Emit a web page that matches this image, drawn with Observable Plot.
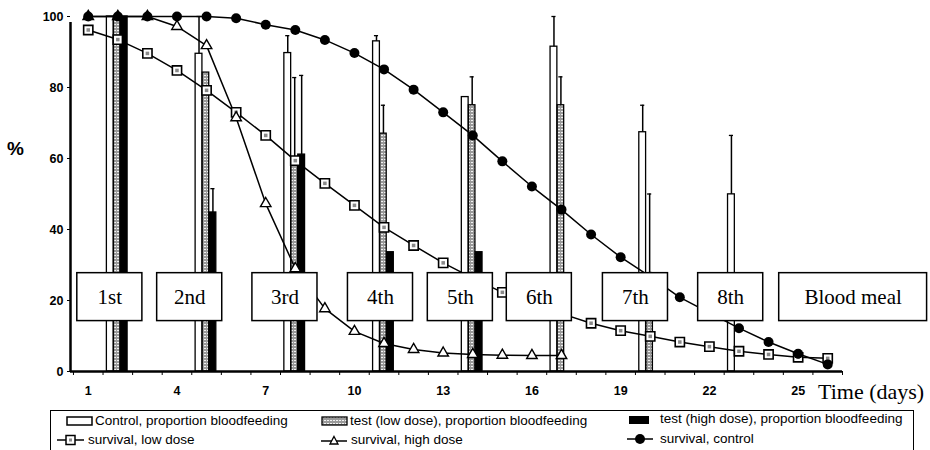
<!DOCTYPE html>
<html>
<head>
<meta charset="utf-8">
<script src="https://cdn.jsdelivr.net/npm/d3@7"></script>
<script src="https://cdn.jsdelivr.net/npm/@observablehq/plot@0.6"></script>
<style>
  html, body { margin: 0; padding: 0; background: #fff; }
  #wrap { position: relative; width: 930px; height: 450px; overflow: hidden; font-family: "Liberation Sans", Arial, sans-serif; color: #000; }
  #chart { position: absolute; left: 0; top: 0; }
  .pct { position: absolute; left: 7px; top: 138px; font: bold 19px "Liberation Sans", Arial, sans-serif; }
  .xlab { position: absolute; left: 818px; top: 379px; font: 22px "Liberation Serif", "Times New Roman", serif; white-space: nowrap; }
  #legend { position: absolute; left: 50px; top: 410px; width: 862px; height: 60px; border: 1.5px solid #000; background: #fff; }
  .item { position: absolute; display: flex; align-items: center; font-size: 13.5px; line-height: 16px; white-space: nowrap; }
  .item svg { display: block; margin-right: 2px; }
</style>
</head>
<body>
<div id="wrap">
  <div id="chart"></div>
  <div class="pct">%</div>
  <div class="xlab">Time (days)</div>
  <div id="legend"></div>
</div>
<script>
// Days of the experiment and survival (%) per group
const days = [1, 2, 3, 4, 5, 6, 7, 8, 9, 10, 11, 12, 13, 14, 15, 16, 17, 18, 19, 20, 21, 22, 23, 24, 25, 26];
const survivalControl = [100, 100, 100, 100, 100, 99.5, 97.7, 96.2, 93.4, 89.7, 85.1, 79.4, 73.0, 66.5, 59.2, 52.1, 45.6, 38.6, 32.2, 26.7, 20.9, 16.5, 12.2, 8.3, 5.0, 2.0];
const survivalLow = [96.2, 93.5, 89.6, 84.8, 79.2, 73.0, 66.5, 59.4, 53.0, 46.8, 40.6, 35.5, 30.6, 26.3, 22.3, 19.2, 16.3, 13.6, 11.5, 9.9, 8.3, 7.0, 5.7, 4.8, 4.0, 3.7];
const highDays = [1, 2, 3, 4, 5, 6, 7, 8, 9, 10, 11, 12, 13, 14, 15, 16, 17];
const survivalHigh = [100, 100, 100, 97.2, 91.8, 71.5, 47.3, 29.0, 17.7, 11.3, 7.9, 6.2, 5.2, 4.8, 4.6, 4.5, 4.5];

// Blood meals: day, proportion bloodfeeding (%) and upper error limit
const mealDays = [2, 5, 8, 11, 14, 17, 20, 23];
const feedControl = [100, 89.5, 89.7, 93.0, 77.3, 91.5, 67.4, 49.9];
const feedControlUpper = [null, 100, 94.6, 94.6, null, 100, 75, 66.5];
const feedLow = [100, 84.2, 60.3, 67.0, 75.0, 75.0, 25, null];
const feedLowUpper = [null, null, 82.8, 75, 83, 83, 50, null];
const feedHigh = [100, 44.8, 61.1, 33.6, 33.6, null, null, null];
const feedHighUpper = [null, 51.5, 83.4, null, null, null, null, null];

// Meal tags and the day each tag is centred on
const tagLabels = ["1st", "2nd", "3rd", "4th", "5th", "6th", "7th", "8th", "Blood meal"];
const tagDays = [1.73, 4.43, 7.65, 10.88, 13.58, 16.25, 19.5, 22.72, 26.86];

// Axis ticks
const xTicks = [1, 4, 7, 10, 13, 16, 19, 22, 25];
const yTicks = [0, 20, 40, 60, 80, 100];

const FONT = '"Liberation Sans", Arial, sans-serif';
const SERIF = '"Liberation Serif", "Times New Roman", serif';

const toRows = (xs, ys) => xs.map((x, i) => ({day: x, value: ys[i]})).filter(d => d.value != null);
const ctrlRows = toRows(days, survivalControl);
const lowRows = toRows(days, survivalLow);
const highRows = toRows(highDays, survivalHigh);

// Bar series: left/right edge of each bar relative to the meal day
const barSeries = [
  {values: feedControl, upper: feedControlUpper, lo: -0.37, hi: -0.14, fill: "white"},
  {values: feedLow, upper: feedLowUpper, lo: -0.13, hi: 0.09, fill: "url(#stipple)"},
  {values: feedHigh, upper: feedHighUpper, lo: 0.10, hi: 0.33, fill: "black"}
];
const barRows = s => mealDays.map((d, i) => ({day: d, value: s.values[i], upper: s.upper[i], x1: d + s.lo, x2: d + s.hi, xm: d + (s.lo + s.hi) / 2}))
  .filter(r => r.value != null);
const errRows = s => barRows(s).filter(r => r.upper != null);

const tags = tagLabels.map((t, i) => ({label: t, day: tagDays[i], half: 0.5 + t.length * 0.2}));

const boundaries = days.map(d => d - 0.5).concat([26.5]);

const barMarks = barSeries.flatMap(s => [
  Plot.rect(barRows(s), {x1: "x1", x2: "x2", y1: 0, y2: "value", fill: s.fill, stroke: "black", strokeWidth: 1.3}),
  Plot.ruleX(errRows(s), {x: "xm", y1: "value", y2: "upper", stroke: "black", strokeWidth: 1.5}),
  Plot.ruleY(errRows(s), {y: "upper", x1: d => d.xm - 0.07, x2: d => d.xm + 0.07, stroke: "black", strokeWidth: 1.3})
]);

const chart = Plot.plot({
  width: 930,
  height: 405,
  marginLeft: 70,
  marginRight: 88,
  marginTop: 16,
  marginBottom: 34,
  style: {fontFamily: FONT, fontSize: "12.5px", fontWeight: "bold", background: "white", overflow: "visible"},
  x: {domain: [0.4, 26.5], label: null},
  y: {domain: [0, 100], label: null},
  marks: [
    ...barMarks,
    // survival curves
    Plot.line(lowRows, {x: "day", y: "value", stroke: "black", strokeWidth: 1.5}),
    Plot.line(highRows, {x: "day", y: "value", stroke: "black", strokeWidth: 1.5}),
    Plot.line(ctrlRows, {x: "day", y: "value", stroke: "black", strokeWidth: 1.5}),
    Plot.dot(lowRows, {x: "day", y: "value", symbol: "square", r: 5.2, fill: "white", stroke: "black", strokeWidth: 1.6}),
    Plot.dot(lowRows, {x: "day", y: "value", symbol: "square", r: 2, fill: "#8a8a8a"}),
    Plot.dot(highRows, {x: "day", y: "value", symbol: "triangle", r: 3.9, fill: "white", stroke: "black", strokeWidth: 1.4}),
    Plot.dot(ctrlRows, {x: "day", y: "value", r: 5, fill: "black"}),
    // meal tags
    Plot.rect(tags, {x1: d => d.day - d.half, x2: d => d.day + d.half, y1: 14.2, y2: 27.7, fill: "white", stroke: "black", strokeWidth: 1.5}),
    Plot.text(tags, {x: "day", y: 21, text: "label", fontFamily: SERIF, fontSize: 21, fontWeight: "normal", fill: "black"}),
    // axes
    Plot.axisY({ticks: yTicks, tickSize: 3, tickPadding: 4, fontWeight: "bold"}),
    Plot.axisX({ticks: boundaries, tickSize: 4, tickFormat: () => ""}),
    Plot.axisX({ticks: xTicks, tickSize: 0, tickPadding: 15, fontWeight: "bold"}),
    Plot.ruleX([0.4], {y1: 0, y2: 98.3, stroke: "black", strokeWidth: 2.5}),
    Plot.ruleY([0], {x1: 0.4, x2: 26.5, stroke: "black", strokeWidth: 2.5})
  ]
});

// stipple fill used by the low-dose bars
d3.select(chart).insert("defs", ":first-child").html(
  '<pattern id="stipple" width="3" height="3" patternUnits="userSpaceOnUse">' +
  '<rect width="3" height="3" fill="#9a9a9a"/><rect x="0" y="0" width="2" height="1" fill="#f2f2f2"/></pattern>'
);
document.getElementById("chart").appendChild(chart);

// Legend
const legendItems = [
  {x: 15, y: 2, label: "Control, proportion bloodfeeding", icon: '<rect x="1" y="3" width="25" height="8" fill="white" stroke="black" stroke-width="1.5"/>', w: 27},
  {x: 270, y: 2, label: "test (low dose), proportion bloodfeeding", icon: '<defs><pattern id="stip2" width="3" height="3" patternUnits="userSpaceOnUse"><rect width="3" height="3" fill="#9a9a9a"/><rect width="2" height="1" fill="#f2f2f2"/></pattern></defs><rect x="1" y="3" width="25" height="8" fill="url(#stip2)" stroke="black" stroke-width="1.3"/>', w: 27},
  {x: 574, y: 0, label: "test (high dose), proportion bloodfeeding", icon: '<rect x="4" y="4" width="20" height="8" fill="black"/>', w: 33},
  {x: 6, y: 21, label: "survival, low dose", icon: '<line x1="0" y1="7" x2="27" y2="7" stroke="black" stroke-width="1.5"/><rect x="9" y="2.5" width="9" height="9" fill="white" stroke="black" stroke-width="1.5"/><rect x="12" y="5.5" width="3" height="3" fill="#8a8a8a"/>', w: 29},
  {x: 270, y: 21, label: "survival, high dose", icon: '<line x1="0" y1="8" x2="26" y2="8" stroke="black" stroke-width="1.5"/><path d="M13,3.5 L17,11 L9,11 Z" fill="white" stroke="black" stroke-width="1.3"/>', w: 28},
  {x: 574, y: 20, label: "survival, control", icon: '<line x1="2" y1="7" x2="28" y2="7" stroke="black" stroke-width="1.5"/><circle cx="15" cy="7" r="5" fill="black"/>', w: 33}
];
const legend = document.getElementById("legend");
for (const it of legendItems) {
  const div = document.createElement("div");
  div.className = "item";
  div.style.left = it.x + "px";
  div.style.top = it.y + "px";
  div.innerHTML = `<svg width="${it.w}" height="14">${it.icon}</svg><span>${it.label}</span>`;
  legend.appendChild(div);
}
</script>
</body>
</html>
